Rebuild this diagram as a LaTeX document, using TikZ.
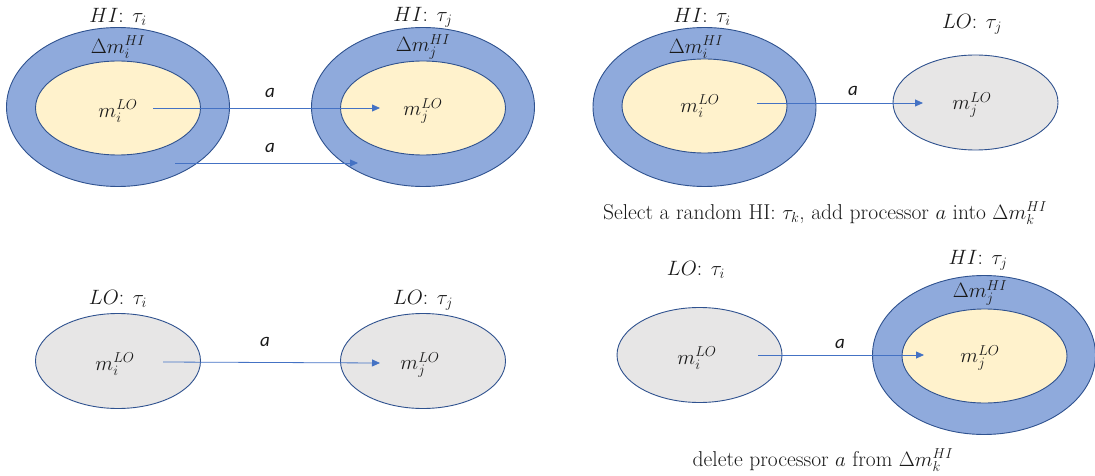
\documentclass[tikz,border=0pt]{standalone}
\usepackage{fontspec}
\newfontfamily\carlito{Carlito}
\usetikzlibrary{shapes.geometric,arrows.meta}
\definecolor{hiblue}{HTML}{8FAADC}
\definecolor{edgeblue}{HTML}{2F528F}
\definecolor{loyellow}{HTML}{FFF2CC}
\definecolor{logray}{HTML}{E7E6E6}
\definecolor{arrowblue}{HTML}{4472C4}
\definecolor{txt}{HTML}{1A1A1A}
\begin{document}
\begin{tikzpicture}[x=1pt,y=-1pt,
  outerring/.style={ellipse,draw=edgeblue,line width=0.9pt,fill=hiblue,inner sep=0pt,minimum width=223pt,minimum height=159pt},
  innercore/.style={ellipse,draw=edgeblue,line width=0.9pt,fill=loyellow,inner sep=0pt,minimum width=165pt,minimum height=94pt},
  lonode/.style={ellipse,draw=edgeblue,line width=0.9pt,fill=logray,inner sep=0pt,minimum width=165pt,minimum height=95pt},
  lab/.style={font=\fontsize{21.5}{26}\selectfont,text=txt,inner sep=0pt},
  alab/.style={font=\carlito\itshape\fontsize{19}{23}\selectfont,text=txt,inner sep=0pt},
  arr/.style={draw=arrowblue,line width=0.8pt,-{Triangle[length=8pt,width=7pt]}}]
\useasboundingbox (0,0) rectangle (1095,476);

% ---------- top left ----------
\node[outerring] (TLo1) at (118,107) {};
\node[innercore] (TLi1) at (118,108) {};
\node[outerring] (TLo2) at (423,107) {};
\node[innercore] (TLi2) at (423,108) {};
\node[lab] (TLh1) at (118,17) {$HI$: $\tau_i$};
\node[lab] (TLh2) at (423,17) {$HI$: $\tau_j$};
\node[lab] (TLd1) at (118,47) {$\Delta m_i^{HI}$};
\node[lab] (TLd2) at (423,47) {$\Delta m_j^{HI}$};
\node[lab] (TLm1) at (118,111) {$m_i^{LO}$};
\node[lab] (TLm2) at (423,111) {$m_j^{LO}$};
\coordinate (TLs1) at (153,108);
\coordinate (TLe1) at (380,108);
\coordinate (TLs2) at (175,163);
\coordinate (TLe2) at (358,163);
\draw[arr] (TLs1) -- (TLe1);
\draw[arr] (TLs2) -- (TLe2);
\node[alab] (TLa1) at (270,93) {a};
\node[alab] (TLa2) at (270,148) {a};

% ---------- top right ----------
\node[outerring] (TRo1) at (704.5,107) {};
\node[innercore] (TRi1) at (704.5,106) {};
\node[lonode] (TRl2) at (975.5,102.5) {};
\node[lab] (TRh1) at (702,17) {$HI$: $\tau_i$};
\node[lab] (TRh2) at (972,24) {$LO$: $\tau_j$};
\node[lab] (TRd1) at (696,47) {$\Delta m_i^{HI}$};
\node[lab] (TRm1) at (700,106) {$m_i^{LO}$};
\node[lab] (TRm2) at (972,105) {$m_j^{LO}$};
\coordinate (TRs) at (757,103);
\coordinate (TRe) at (923,103);
\draw[arr] (TRs) -- (TRe);
\node[alab] (TRa) at (853,91) {a};
\node[lab] (TRcap) at (825,213) {Select a random HI: $\tau_k$, add processor $a$ into $\Delta m_k^{HI}$};

% ---------- bottom left ----------
\node[lonode] (BLl1) at (118,361) {};
\node[lonode] (BLl2) at (423,361) {};
\node[lab] (BLh1) at (118,299) {$LO$: $\tau_i$};
\node[lab] (BLh2) at (423,300) {$LO$: $\tau_j$};
\node[lab] (BLm1) at (115,364) {$m_i^{LO}$};
\node[lab] (BLm2) at (420,365) {$m_j^{LO}$};
\coordinate (BLs) at (163,362);
\coordinate (BLe) at (380,363);
\draw[arr] (BLs) -- (BLe);
\node[alab] (BLa) at (265,342) {a};

% ---------- bottom right ----------
\node[lonode] (BRl1) at (699.5,355) {};
\node[outerring] (BRo2) at (984,355) {};
\node[innercore] (BRi2) at (984.5,356) {};
\node[lab] (BRh1) at (696,270) {$LO$: $\tau_i$};
\node[lab] (BRh2) at (978,260) {$HI$: $\tau_j$};
\node[lab] (BRd2) at (980,293) {$\Delta m_j^{HI}$};
\node[lab] (BRm1) at (697,358) {$m_i^{LO}$};
\node[lab] (BRm2) at (980,358) {$m_j^{LO}$};
\coordinate (BRs) at (758,355);
\coordinate (BRe) at (924,355);
\draw[arr] (BRs) -- (BRe);
\node[alab] (BRa) at (840,344) {a};
\node[lab] (BRcap) at (823,460) {delete processor $a$ from $\Delta m_k^{HI}$};
\end{tikzpicture}
\end{document}
